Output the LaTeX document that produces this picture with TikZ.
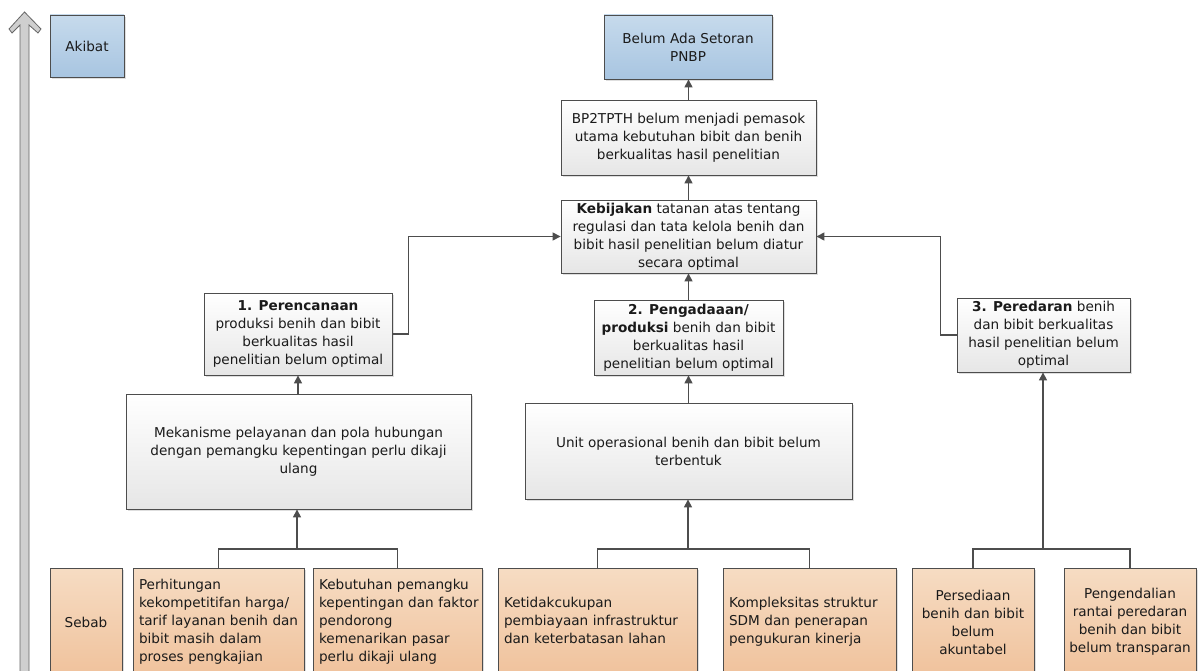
\documentclass[tikz,border=0pt]{standalone}
\usepackage{fontspec}
\setmainfont{DejaVu Sans}
\usetikzlibrary{shadows,arrows.meta}
\definecolor{bord}{HTML}{4D4D4D}
\definecolor{txt}{HTML}{1A1A1A}
\definecolor{graybot}{HTML}{E6E6E6}
\definecolor{bluetop}{HTML}{C6DAEC}
\definecolor{bluebot}{HTML}{A8C5E1}
\definecolor{ortop}{HTML}{F6DCC3}
\definecolor{orbot}{HTML}{F0C29C}
\definecolor{arrfill}{HTML}{CFCFCF}
\newcommand{\lefttab}[1]{\begin{tabular}{@{}l@{}}#1\end{tabular}}
\begin{document}
\begin{tikzpicture}[x=1pt,y=-1pt,
  base/.style={draw=bord, line width=0.8pt,
    drop shadow={shadow xshift=2pt,shadow yshift=-2pt,fill=black!25,opacity=0.5},
    font=\fontsize{13.6}{18}\selectfont, text=txt, inner sep=0pt},
  wbox/.style={base, top color=white, bottom color=graybot, align=center},
  bbox/.style={base, top color=bluetop, bottom color=bluebot, align=center},
  obox/.style={base, top color=ortop, bottom color=orbot, minimum height=108pt},
  lbox/.style={obox, inner xsep=6pt, align=left},
  arr/.style={draw=bord, line width=1.2pt, -{Triangle[length=8pt,width=8pt]}},
  ln/.style={draw=bord, line width=1.2pt}]
\useasboundingbox (0,0) rectangle (1200,671);
\fill[white] (0,0) rectangle (1200,671);
% big vertical arrow
\draw[fill=arrfill, draw=black!60, line width=0.8pt]
  (20,680) -- (20,25) -- (12,33) -- (9,29) -- (24.5,12) -- (41,29) -- (38,33) -- (29,25) -- (29,680) -- cycle;

% top nodes
\node[bbox, minimum width=74pt, minimum height=62pt] (akibat) at (87,46) {Akibat};
\node[bbox, minimum width=168pt, minimum height=64pt] (pnbp) at (688,47) {Belum Ada Setoran\\PNBP};
\node[wbox, minimum width=255pt, minimum height=75pt] (bp) at (688.5,137.5)
  {BP2TPTH belum menjadi pemasok\\utama kebutuhan bibit dan benih\\berkualitas hasil penelitian};
\node[wbox, minimum width=255pt, minimum height=73pt] (keb) at (688.5,236.5)
  {\textbf{Kebijakan} tatanan atas tentang\\regulasi dan tata kelola benih dan\\bibit hasil penelitian belum diatur\\secara optimal};
\node[wbox, minimum width=188pt, minimum height=82pt] (per) at (298,334)
  {\textbf{1. Perencanaan}\\produksi benih dan bibit\\berkualitas hasil\\penelitian belum optimal};
\node[wbox, minimum width=189pt, minimum height=75pt] (peng) at (688.5,337.5)
  {\textbf{2. Pengadaaan/}\\\textbf{produksi} benih dan bibit\\berkualitas hasil\\penelitian belum optimal};
\node[wbox, minimum width=173pt, minimum height=74pt] (pered) at (1043.5,335)
  {\textbf{3. Peredaran} benih\\dan bibit berkualitas\\hasil penelitian belum\\optimal};
\node[wbox, minimum width=345pt, minimum height=115pt] (mek) at (298.5,451.5)
  {Mekanisme pelayanan dan pola hubungan\\dengan pemangku kepentingan perlu dikaji\\ulang};
\node[wbox, minimum width=327pt, minimum height=96pt] (unit) at (688.5,451)
  {Unit operasional benih dan bibit belum\\terbentuk};

% bottom nodes
\node[obox, minimum width=72pt, align=center] (sebab) at (86,622) {Sebab};
\node[lbox, text width=159pt] (perh) at (218.5,622)
  {\lefttab{Perhitungan\\kekompetitifan harga/\\tarif layanan benih dan\\bibit masih dalam\\proses pengkajian}};
\node[lbox, text width=157pt] (kebu) at (397.5,622)
  {\lefttab{Kebutuhan pemangku\\kepentingan dan faktor\\pendorong\\kemenarikan pasar\\perlu dikaji ulang}};
\node[lbox, text width=187pt] (ketid) at (597.5,622)
  {\lefttab{Ketidakcukupan\\pembiayaan infrastruktur\\dan keterbatasan lahan}};
\node[lbox, text width=161pt] (komp) at (809.5,622)
  {\lefttab{Kompleksitas struktur\\SDM dan penerapan\\pengukuran kinerja}};
\node[obox, minimum width=122pt, align=center] (pers) at (973,622)
  {Persediaan\\benih dan bibit\\belum\\akuntabel};
\node[obox, minimum width=132pt, align=center] (pengend) at (1130,622)
  {Pengendalian\\rantai peredaran\\benih dan bibit\\belum transparan};

% connectors
\draw[arr] (bp.north) -- (bp.north |- pnbp.south);
\draw[arr] (keb.north) -- (keb.north |- bp.south);
\draw[arr] (peng.north) -- (peng.north |- keb.south);
\draw[arr] (unit.north) -- (unit.north |- peng.south);
\draw[arr] (per.east) -- ++(16,0) |- (keb.west);
\draw[arr] (pered.west) -- ++(-16,0) |- (keb.east);
\draw[arr] (mek.north -| per.south) -- (per.south);

\coordinate (j1) at (297,549);
\coordinate (j2) at (688,549);
\coordinate (j3) at (1043,549);
\draw[ln] (perh.north) |- (j1) -| (kebu.north);
\draw[arr] (j1) -- (j1 |- mek.south);
\draw[ln] (ketid.north) |- (j2) -| (komp.north);
\draw[arr] (j2) -- (j2 |- unit.south);
\draw[ln] (pers.north) |- (j3) -| (pengend.north);
\draw[arr] (j3) -- (j3 |- pered.south);
\end{tikzpicture}
\end{document}
